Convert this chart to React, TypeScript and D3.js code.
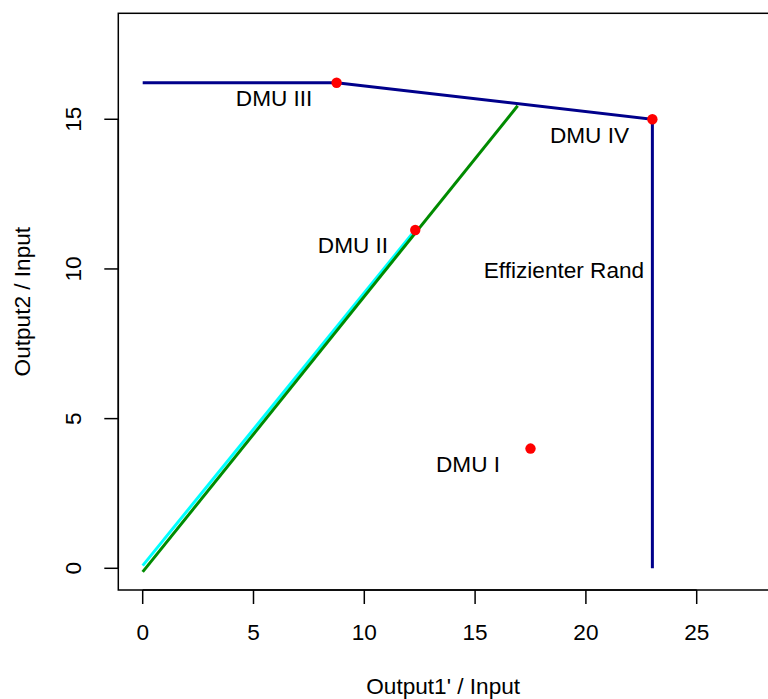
import React from "react";
import * as d3 from "d3";

// Frontier (efficient boundary) vertices
const frontierX = [0, 8.75, 23, 23];
const frontierY = [16.22, 16.22, 15, 0];

// DMU points
const dmuNames = ["DMU I", "DMU II", "DMU III", "DMU IV"];
const dmuX = [17.5, 12.3, 8.75, 23];
const dmuY = [4, 11.3, 16.22, 15];

// label positions
const labelText = ["DMU I", "DMU II", "DMU III", "DMU IV", "Effizienter Rand"];
const labelX = [14.68, 9.49, 5.93, 20.16, 19.01];
const labelY = [3.49, 10.81, 15.71, 14.47, 9.96];

// rays from origin
const cyanX = [0, 12.3];
const cyanY = [0.09, 11.3];
const greenX = [0, 16.92];
const greenY = [-0.12, 15.45];

const xTicks = [0, 5, 10, 15, 20, 25];
const yTicks = [0, 5, 10, 15];

const W = 768;
const H = 699;
const left = 118.3;
const right = 768.5;
const top = 13.3;
const bottom = 590;

export default function App() {
  const x = d3.scaleLinear().domain([-1.101, 28.24]).range([left, right]);
  const y = d3.scaleLinear().domain([-0.725, 18.54]).range([bottom, top]);
  const line = d3
    .line<[number, number]>()
    .x((d) => x(d[0]))
    .y((d) => y(d[1]));
  const zip = (a: number[], b: number[]) => a.map((v, i) => [v, b[i]] as [number, number]);
  const font = "'Liberation Sans', Arial, sans-serif";
  const fs = 22.6;
  return (
    <div style={{ position: "absolute", left: 0, top: 0 }}>
      <svg width={W} height={H} style={{ display: "block", background: "#fff" }}>
        <rect x={0} y={0} width={W} height={H} fill="#fff" />
        {/* lines */}
        <path d={line(zip(frontierX, frontierY)) || ""} fill="none" stroke="#00008B" strokeWidth={3} />
        <path d={line(zip(cyanX, cyanY)) || ""} fill="none" stroke="#00FFFF" strokeWidth={3} />
        <path d={line(zip(greenX, greenY)) || ""} fill="none" stroke="#008B00" strokeWidth={3} />
        {/* points */}
        {dmuX.map((v, i) => (
          <circle key={dmuNames[i]} cx={x(v)} cy={y(dmuY[i])} r={5.2} fill="#FF0000" />
        ))}
        {/* labels */}
        {labelText.map((t, i) => (
          <text
            key={t}
            x={x(labelX[i])}
            y={y(labelY[i]) + 8}
            textAnchor="middle"
            fontFamily={font}
            fontSize={fs}
            fill="#000"
          >
            {t}
          </text>
        ))}
        {/* box */}
        <rect
          x={left}
          y={top}
          width={right - left + 2}
          height={bottom - top}
          fill="none"
          stroke="#000"
          strokeWidth={1.5}
        />
        {/* x axis */}
        <line x1={x(0)} x2={x(25)} y1={bottom} y2={bottom} stroke="#000" strokeWidth={1.5} />
        {xTicks.map((t) => (
          <g key={"x" + t}>
            <line x1={x(t)} x2={x(t)} y1={bottom} y2={bottom + 14} stroke="#000" strokeWidth={1.5} />
            <text x={x(t)} y={640} textAnchor="middle" fontFamily={font} fontSize={fs} fill="#000">
              {t}
            </text>
          </g>
        ))}
        {/* y axis */}
        <line x1={left} x2={left} y1={y(0)} y2={y(15)} stroke="#000" strokeWidth={1.5} />
        {yTicks.map((t) => (
          <g key={"y" + t}>
            <line x1={left} x2={left - 14} y1={y(t)} y2={y(t)} stroke="#000" strokeWidth={1.5} />
            <text
              transform={`translate(81,${y(t)}) rotate(-90)`}
              textAnchor="middle"
              fontFamily={font}
              fontSize={fs}
              fill="#000"
            >
              {t}
            </text>
          </g>
        ))}
        {/* axis titles */}
        <text x={(left + 768) / 2} y={694} textAnchor="middle" fontFamily={font} fontSize={fs} fill="#000">
          Output1' / Input
        </text>
        <text
          transform={`translate(30,${(top + bottom) / 2}) rotate(-90)`}
          textAnchor="middle"
          fontFamily={font}
          fontSize={fs}
          fill="#000"
        >
          Output2 / Input
        </text>
      </svg>
    </div>
  );
}
